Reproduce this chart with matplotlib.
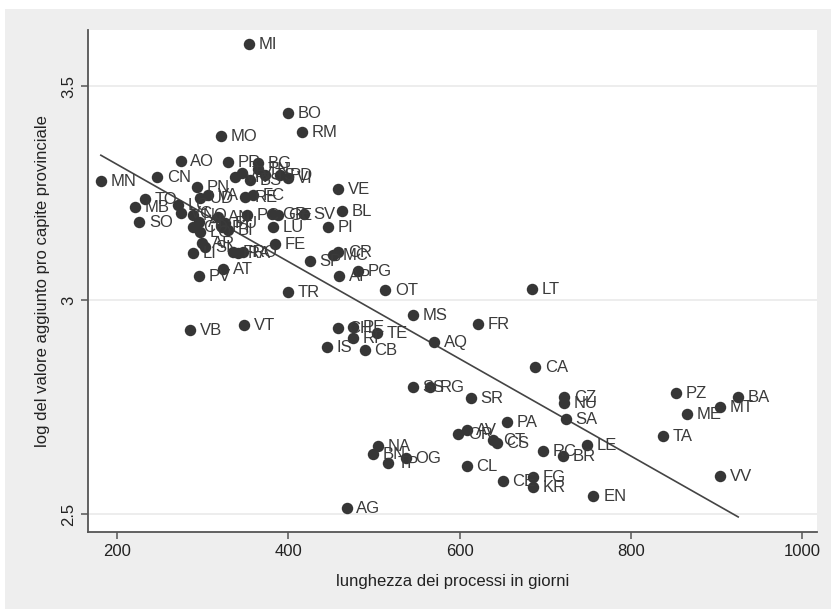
import numpy as np
import matplotlib.pyplot as plt
from matplotlib.patches import Rectangle

plt.rcParams['font.family'] = ['Liberation Sans', 'DejaVu Sans']

# sigle delle province
prov = ['MI', 'BO', 'RM', 'MO', 'AO', 'PR', 'BG', 'TN', 'MN', 'CN',
        'TV', 'VR', 'BS', 'PD', 'TS', 'VI', 'PN', 'UD', 'VA', 'RE',
        'FC', 'TO', 'MB', 'SO', 'LC', 'VC', 'NO', 'AL', 'AN', 'PU',
        'PC', 'GR', 'GE', 'SV', 'CO', 'LO', 'PT', 'BI', 'LU', 'PI',
        'BL', 'VE', 'AR', 'SI', 'FE', 'LI', 'FI', 'RA', 'RO', 'AT',
        'PV', 'SP', 'CR', 'MC', 'PG', 'AP', 'OT', 'TR', 'VB', 'VT',
        'LT', 'MS', 'FR', 'CH', 'PE', 'RI', 'TE', 'IS', 'CB', 'AQ',
        'CA', 'SS', 'RG', 'SR', 'PA', 'OR', 'AV', 'CT', 'CS', 'RC',
        'NA', 'BN', 'TP', 'OG', 'CL', 'CE', 'FG', 'KR', 'AG', 'CZ',
        'NU', 'SA', 'PZ', 'BA', 'MT', 'ME', 'TA', 'LE', 'BR', 'VV',
        'EN']

# lunghezza dei processi (giorni)
giorni = [354, 399, 416, 321, 274, 329, 364, 364, 181, 247,
          346, 338, 355, 390, 373, 399, 293, 297, 306, 349,
          359, 233, 221, 226, 271, 274, 289, 295, 318, 326,
          352, 381, 388, 418, 289, 297, 322, 329, 382, 446,
          462, 458, 299, 303, 384, 288, 335, 341, 347, 324,
          296, 425, 458, 452, 481, 459, 513, 399, 285, 348,
          684, 545, 621, 458, 475, 475, 503, 445, 489, 570,
          688, 545, 565, 613, 655, 598, 608, 639, 643, 697,
          504, 499, 516, 537, 608, 650, 685, 685, 468, 722,
          722, 724, 852, 925, 904, 865, 837, 748, 720, 904,
          756]

# log del valore aggiunto pro capite
logva = [3.598, 3.437, 3.393, 3.383, 3.325, 3.322, 3.320, 3.306, 3.278, 3.287,
         3.297, 3.287, 3.280, 3.292, 3.292, 3.285, 3.264, 3.238, 3.245, 3.241,
         3.245, 3.236, 3.217, 3.182, 3.222, 3.203, 3.199, 3.182, 3.194, 3.180,
         3.199, 3.201, 3.199, 3.201, 3.171, 3.159, 3.171, 3.164, 3.171, 3.171,
         3.208, 3.259, 3.133, 3.124, 3.131, 3.110, 3.112, 3.110, 3.112, 3.072,
         3.056, 3.091, 3.112, 3.105, 3.068, 3.056, 3.023, 3.019, 2.930, 2.942,
         3.026, 2.965, 2.944, 2.935, 2.937, 2.911, 2.923, 2.890, 2.883, 2.902,
         2.843, 2.797, 2.797, 2.771, 2.715, 2.687, 2.696, 2.673, 2.666, 2.647,
         2.659, 2.640, 2.619, 2.631, 2.612, 2.577, 2.586, 2.563, 2.514, 2.773,
         2.759, 2.722, 2.783, 2.773, 2.750, 2.734, 2.682, 2.661, 2.636, 2.589,
         2.542]

x = np.array(giorni, dtype=float)
y = np.array(logva)

grigio = '#eeeeee'
scuro = '#363636'

fig = plt.figure(figsize=(8.31, 6.09), dpi=100, facecolor=grigio)
# striscia bianca in alto e a sinistra come nello screenshot
fig.patches.append(Rectangle((0, 1 - 9 / 609), 1, 9 / 609, transform=fig.transFigure,
                             facecolor='white', edgecolor='none', zorder=-1))
fig.patches.append(Rectangle((0, 0), 5 / 831, 1, transform=fig.transFigure,
                             facecolor='white', edgecolor='none', zorder=-1))

ax = fig.add_axes([88 / 831, 1 - 532 / 609, (817 - 88) / 831, (532 - 30) / 609])
ax.set_facecolor('white')

ax.scatter(x, y, s=68, color=scuro, zorder=3, linewidths=0)
for lab, xi, yi in zip(prov, x, y):
    ax.annotate(lab, (xi, yi), xytext=(7, -0.5), textcoords='offset points',
                va='center', ha='left', fontsize=12, color='#3a3a3a', zorder=4)

# retta di regressione
b, a = np.polyfit(x, y, 1)
xs = np.array([x.min(), x.max()])
ax.plot(xs, a + b * xs, color='#444444', lw=1.2, zorder=2)

ax.set_xlim(166, 1017)
ax.set_ylim(2.458, 3.631)
ax.set_xticks([200, 400, 600, 800, 1000])
ax.set_yticks([2.5, 3, 3.5])
ax.set_yticklabels(['2.5', '3', '3.5'], rotation=90, va='center')
ax.grid(axis='y', color='#eaeaea', lw=1.2)
ax.set_axisbelow(True)

for s in ['top', 'right']:
    ax.spines[s].set_visible(False)
for s in ['left', 'bottom']:
    ax.spines[s].set_color('#555555')
    ax.spines[s].set_linewidth(1.3)
ax.tick_params(direction='out', length=5, width=1.1, color='#555555',
               labelsize=12, labelcolor='#222222')

ax.set_xlabel('lunghezza dei processi in giorni', fontsize=12, color='#222222', labelpad=11)
ax.set_ylabel('log del valore aggiunto pro capite provinciale', fontsize=12,
              color='#222222', labelpad=8)

fig.savefig('out.png', dpi=100, facecolor=fig.get_facecolor())
